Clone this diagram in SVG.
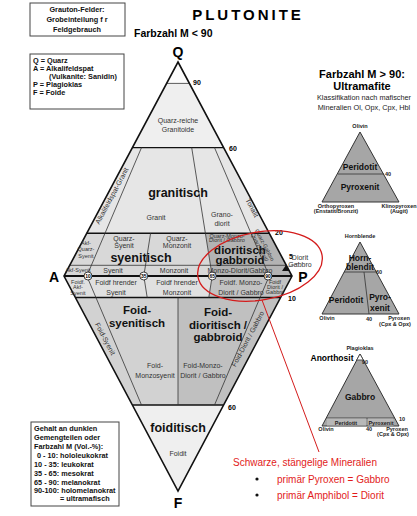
<svg xmlns="http://www.w3.org/2000/svg" width="417" height="516" viewBox="0 0 417 516">
<style>
text{font-family:"Liberation Sans",Arial,sans-serif}
.b{font-weight:bold}
.s{font-size:7px;fill:#333;text-anchor:middle}
.xs{font-size:5.5px;fill:#333;text-anchor:middle}
.big{font-size:12.5px;font-weight:bold;text-anchor:middle;fill:#111}
.big2{font-size:11.5px;font-weight:bold;text-anchor:middle;fill:#111}
.apex{font-size:14px;font-weight:bold;text-anchor:middle}
.num{font-size:7px;font-weight:bold}
.box{fill:#fff;stroke:#444;stroke-width:1}
.bt{font-size:7.3px;font-weight:bold;fill:#111}
.div{fill:none;stroke:#333;stroke-width:0.8}
.thick{fill:none;stroke:#111;stroke-width:1.4}
.tri{fill:#a6a6a6;stroke:#333;stroke-width:1}
.tl{font-size:5.5px;font-weight:bold;fill:#222;text-anchor:middle}
.tb{font-size:8.5px;font-weight:bold;fill:#111;text-anchor:middle}
.red{font-size:10px;fill:#e21b1b}
</style>

<!-- Legend boxes -->
<g id="box-grauton">
<rect class="box" x="30" y="3" width="95" height="33"/>
<text class="bt" x="77" y="12" text-anchor="middle">Grauton-Felder:</text>
<text class="bt" x="77" y="22" text-anchor="middle">Grobeinteilung f r</text>
<text class="bt" x="77" y="32" text-anchor="middle">Feldgebrauch</text>
</g>
<g id="box-abk">
<rect class="box" x="30" y="54" width="94" height="55"/>
<text class="bt" x="33" y="63">Q = Quarz</text>
<text class="bt" x="33" y="71">A = Alkalifeldspat</text>
<text class="bt" x="49" y="79">(Vulkanite: Sanidin)</text>
<text class="bt" x="33" y="87">P = Plagioklas</text>
<text class="bt" x="33" y="95">F = Foide</text>
</g>
<g id="box-farbzahl">
<rect class="box" x="31" y="422" width="88" height="84"/>
<text class="bt" x="34" y="431">Gehalt an dunklen</text>
<text class="bt" x="34" y="440">Gemengteilen oder</text>
<text class="bt" x="34" y="449">Farbzahl M (Vol.-%):</text>
<text class="bt" x="37" y="458">0 - 10: hololeukokrat</text>
<text class="bt" x="34" y="467">10 - 35: leukokrat</text>
<text class="bt" x="34" y="476">35 - 65: mesokrat</text>
<text class="bt" x="34" y="485">65 - 90: melanokrat</text>
<text class="bt" x="34" y="493">90-100: holomelanokrat</text>
<text class="bt" x="60" y="501">= ultramafisch</text>
</g>

<!-- Title -->
<g id="title">
<text x="248" y="20" class="b" font-size="15" text-anchor="middle" letter-spacing="3">PLUTONITE</text>
<text x="134" y="37" class="b" font-size="10.5">Farbzahl M  &lt; 90</text>
</g>

<!-- QAPF diamond fills -->
<g id="qapf">
<polygon points="178,62 189.4,83.4 166.6,83.4" fill="#fcfcfc"/>
<polygon points="166.6,83.4 189.4,83.4 223.6,147.6 132.4,147.6" fill="#efefef"/>
<polygon points="132.4,147.6 223.6,147.6 269.2,233.2 86.8,233.2" fill="#e6e6e6"/>
<polygon points="86.8,233.2 205.4,233.2 212.2,276 64,276" fill="#d8d8d8"/>
<polygon points="205.4,233.2 269.2,233.2 292,276 212.2,276" fill="#b3b3b3"/>
<polygon points="64,276 212.2,276 208.8,297.5 75.4,297.5" fill="#e0e0e0"/>
<polygon points="212.2,276 292,276 280.6,297.5 208.8,297.5" fill="#c2c2c2"/>
<polygon points="75.4,297.5 178,297.5 178,405 132.4,405" fill="#d2d2d2"/>
<polygon points="178,297.5 280.6,297.5 223.6,405 178,405" fill="#c0c0c0"/>
<polygon points="132.4,405 223.6,405 178,491" fill="#efefef"/>

<!-- division lines -->
<line class="div" x1="166.6" y1="83.4" x2="189.4" y2="83.4"/>
<line class="thick" x1="132.4" y1="147.6" x2="223.6" y2="147.6"/>
<line class="thick" x1="86.8" y1="233.2" x2="269.2" y2="233.2"/>
<line class="div" x1="69.7" y1="265.3" x2="286.3" y2="265.3"/>
<line class="thick" x1="75.4" y1="297.5" x2="280.6" y2="297.5"/>
<line class="thick" x1="132.4" y1="405" x2="223.6" y2="405"/>
<line class="div" x1="141.5" y1="147.6" x2="86.8" y2="276"/>
<line class="div" x1="191.7" y1="147.6" x2="212.2" y2="276"/>
<line class="div" x1="214.5" y1="147.6" x2="269.2" y2="276"/>
<line class="div" x1="150.6" y1="233.2" x2="143.8" y2="276"/>
<line class="div" x1="86.8" y1="276" x2="141.5" y2="405"/>
<line class="div" x1="143.8" y1="276" x2="147.2" y2="297.5"/>
<line class="div" x1="212.2" y1="276" x2="208.8" y2="297.5"/>
<line class="div" x1="178" y1="297.5" x2="178" y2="405"/>
<line class="div" x1="269.2" y1="276" x2="214.5" y2="405"/>
<line x1="64" y1="276" x2="292" y2="276" stroke="#111" stroke-width="2"/>
<polygon points="178,62 292,276 178,491 64,276" fill="none" stroke="#111" stroke-width="1.6"/>

<!-- circles on AP -->
<g font-size="5" text-anchor="middle" class="b">
<circle cx="88" cy="276" r="4" fill="#fff" stroke="#111" stroke-width="0.8"/><text x="88" y="277.8">10</text>
<circle cx="143.8" cy="276" r="4" fill="#fff" stroke="#111" stroke-width="0.8"/><text x="143.8" y="277.8">35</text>
<circle cx="212.2" cy="276" r="4" fill="#fff" stroke="#111" stroke-width="0.8"/><text x="212.2" y="277.8">65</text>
<circle cx="268" cy="276" r="4" fill="#fff" stroke="#111" stroke-width="0.8"/><text x="268" y="277.8">90</text>
</g>

<!-- vertex labels and numbers -->
<text class="apex" x="178" y="57">Q</text>
<text class="apex" x="54" y="282">A</text>
<text class="apex" x="303" y="282">P</text>
<text class="apex" x="178" y="508">F</text>
<text class="num" x="193" y="85">90</text>
<text class="num" x="229" y="151">60</text>
<text class="num" x="275" y="235">20</text>
<text class="num" x="289" y="259">5</text>
<text class="num" x="288" y="301">10</text>
<text class="num" x="228" y="410">60</text>

<!-- field labels -->
<text class="s" x="178" y="123">Quarz-reiche</text>
<text class="s" x="178" y="132">Granitoide</text>
<text class="big" x="178" y="197">granitisch</text>
<text class="s" x="156" y="220">Granit</text>
<text class="s" x="222" y="217">Grano-</text>
<text class="s" x="222" y="226">diorit</text>
<text class="s" transform="translate(250,209) rotate(62)">Tonalit</text>
<text class="s" font-size="6.5" transform="translate(114,197) rotate(-62)">Alkalifeldspat-Granit</text>
<text class="xs" x="86" y="245">Akf-</text>
<text class="xs" x="86" y="251">Quarz-</text>
<text class="xs" x="86" y="258">Syenit</text>
<text class="s" x="124" y="241">Quarz-</text>
<text class="s" x="124" y="248">Syenit</text>
<text class="s" x="177" y="241">Quarz-</text>
<text class="s" x="177" y="248">Monzonit</text>
<text class="big" x="141" y="262">syenitisch</text>
<text class="xs" font-size="5" x="227" y="237.5">Quarz-Monzo-</text>
<text class="xs" font-size="5" x="227" y="242">Diorit / Gabbro</text>
<text class="big2" x="240" y="253.5">dioritisch</text>
<text class="big2" x="240" y="264">gabbroid</text>
<text class="xs" font-size="5" transform="translate(258,248) rotate(62)">Quarz-Diorit/</text>
<text class="xs" font-size="5" transform="translate(263,246) rotate(62)">Quarz-Gabbro</text>
<text class="xs" x="78" y="272">Akf-Syenit</text>
<text class="s" x="113" y="273">Syenit</text>
<text class="s" x="174" y="273">Monzonit</text>
<text class="s" font-size="6.5" x="240" y="272.5">Monzo-Diorit/Gabbro</text>
<text class="xs" x="78" y="284">Foidf.</text>
<text class="xs" x="78" y="289">Akf-</text>
<text class="xs" x="78" y="295">Syenit</text>
<text class="s" x="116" y="285">Foidf hrender</text>
<text class="s" x="116" y="295">Syenit</text>
<text class="s" x="177" y="285">Foidf hrender</text>
<text class="s" x="177" y="295">Monzonit</text>
<text class="s" x="241" y="285">Foidf. Monzo-</text>
<text class="s" x="241" y="295">Diorit / Gabbro</text>
<text class="xs" x="275" y="284">Foidf</text>
<text class="xs" x="275" y="289">Diorit /</text>
<text class="xs" x="275" y="294">Gabbro</text>
<text class="big2" x="137" y="314">Foid-</text>
<text class="big2" x="137" y="326.5">syenitisch</text>
<text class="big2" x="218" y="316">Foid-</text>
<text class="big2" x="218" y="328.5">dioritisch /</text>
<text class="big2" x="218" y="341">gabbroid</text>
<text class="s" transform="translate(103,340) rotate(62)">Foid-Syenit</text>
<text class="s" x="155" y="368">Foid-</text>
<text class="s" x="155" y="378">Monzosyenit</text>
<text class="s" x="203" y="368">Foid-Monzo-</text>
<text class="s" x="203" y="378">Diorit / Gabbro</text>
<text class="s" transform="translate(250,340) rotate(-62)">Foid-Diorit / Gabbro</text>
<text class="big" x="178" y="432">foiditisch</text>
<text class="s" x="178" y="456">Foidit</text>

<!-- Diorit/Gabbro corner marker -->
<polygon points="282,271 290,271 286,265" fill="#111"/>
<line x1="288" y1="267" x2="299" y2="263" stroke="#555" stroke-width="0.6"/>
<text class="s" x="300" y="260" text-anchor="start">Diorit</text>
<text class="s" x="300" y="267" text-anchor="start">Gabbro</text>
</g>

<!-- Ultramafite -->
<g id="ultramafite-head">
<text x="362" y="78" class="b" font-size="11" text-anchor="middle">Farbzahl M  &gt; 90:</text>
<text x="362" y="90" class="b" font-size="11" text-anchor="middle">Ultramafite</text>
<text x="364" y="100" font-size="7.3" fill="#222" text-anchor="middle">Klassifikation nach mafischer</text>
<text x="364" y="110" font-size="7.3" fill="#222" text-anchor="middle">Mineralien Ol, Opx, Cpx, Hbl</text>
</g>

<g id="tri-olivin">
<polygon class="tri" points="360,132 399,202 322,202"/>
<line class="div" x1="338" y1="174" x2="384" y2="174"/>
<text class="tl" x="360" y="128">Olivin</text>
<text class="tb" x="360" y="170">Peridotit</text>
<text class="tb" x="360" y="190">Pyroxenit</text>
<text class="tl" x="388" y="176" text-anchor="start">40</text>
<text class="tl" x="336" y="208">Orthopyroxen</text>
<text class="tl" x="336" y="213">(Enstatit/Bronzit)</text>
<text class="tl" font-size="5.2" x="399" y="208">Klinopyroxen</text>
<text class="tl" font-size="5.2" x="399" y="213">(Augit)</text>
</g>

<g id="tri-hornblende">
<polygon class="tri" points="360,242 399,314 322,314"/>
<line class="div" x1="344" y1="272" x2="376" y2="272"/>
<line class="div" x1="364" y1="272" x2="369" y2="314"/>
<text class="tl" x="360" y="238">Hornblende</text>
<text class="tb" x="360" y="261" font-size="7">Horn-</text>
<text class="tb" x="360" y="269.5" font-size="7">blendit</text>
<text class="tl" x="379" y="274" text-anchor="start">60</text>
<text class="tb" x="346" y="303">Peridotit</text>
<text class="tb" x="380" y="300">Pyro-</text>
<text class="tb" x="380" y="311">xenit</text>
<text class="tl" x="327" y="320">Olivin</text>
<text class="tl" x="369" y="321">40</text>
<text class="tl" x="399" y="320">Pyroxen</text>
<text class="tl" x="395" y="326">(Cpx &amp; Opx)</text>
</g>

<g id="tri-plagioklas">
<polygon class="tri" points="360,354 399,426 322,426"/>
<polygon points="360,354 363.3,360 356.7,360" fill="#fff" stroke="#333" stroke-width="0.8"/>
<line class="div" x1="326.5" y1="418" x2="394.5" y2="418"/>
<line class="div" x1="367" y1="418" x2="367" y2="426"/>
<rect x="327" y="418.5" width="39.5" height="7" fill="#b8b8b8"/>
<rect x="367.5" y="418.5" width="26" height="7" fill="#b8b8b8"/>
<text class="tl" x="360" y="350">Plagioklas</text>
<text x="332" y="361" class="b" font-size="8.5" text-anchor="middle">Anorthosit</text>
<text class="tl" x="365" y="364" text-anchor="start">90</text>
<text class="tb" x="360" y="400">Gabbro</text>
<text class="tl" x="346" y="424.5">Peridotit</text>
<text class="tl" x="381" y="424.5">Pyroxenit</text>
<text class="tl" x="402" y="421" text-anchor="start">10</text>
<text class="tl" x="326" y="431">Olivin</text>
<text class="tl" x="369" y="431">40</text>
<text class="tl" x="397" y="431">Pyroxen</text>
<text class="tl" x="393" y="436">(Cpx &amp; Opx)</text>
</g>

<!-- red annotation -->
<g id="connectors">
<ellipse cx="260" cy="266" rx="63" ry="34" transform="rotate(-10 260 266)" fill="none" stroke="#d41c1c" stroke-width="1.3"/>
<line x1="262" y1="300" x2="319" y2="452" stroke="#d41c1c" stroke-width="1"/>
</g>
<g id="note">
<text class="red" x="233" y="466">Schwarze, stängelige Mineralien</text>
<circle cx="257" cy="479" r="1.6" fill="#111"/>
<text class="red" x="277" y="483">primär Pyroxen = Gabbro</text>
<circle cx="257" cy="495" r="1.6" fill="#111"/>
<text class="red" x="277" y="499">primär Amphibol = Diorit</text>
</g>
</svg>
